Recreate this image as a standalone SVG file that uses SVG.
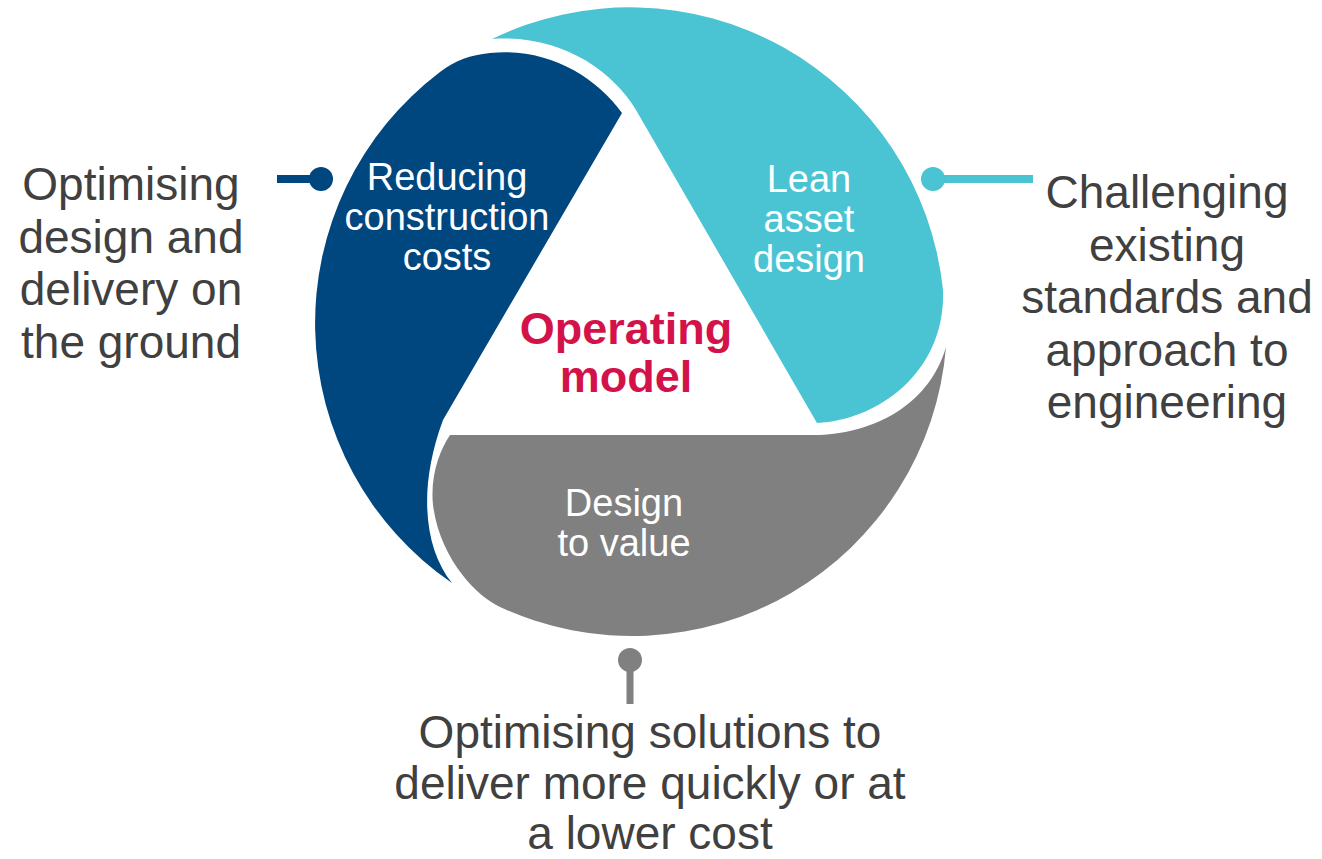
<svg xmlns="http://www.w3.org/2000/svg" width="1322" height="859" viewBox="0 0 1322 859">
<style>
.lbl{font-family:"Liberation Sans",Arial,sans-serif;font-size:46px;fill:#404040;text-anchor:middle}
.in{font-family:"Liberation Sans",Arial,sans-serif;font-size:38px;fill:#ffffff;text-anchor:middle}
.core{font-family:"Liberation Sans",Arial,sans-serif;font-size:45px;font-weight:bold;fill:#D4124A;text-anchor:middle}
</style>
<rect width="1322" height="859" fill="#ffffff"/>
<g id="blade-reducing">
<path fill="#00467F" d="M622,113 C595,75 545,47 490,53 C470,55 456,60 440,72 A315,315 0 0 0 452,583 C425,550 417,490 443,420 Z"/>
<text class="in" x="447" y="190">Reducing</text>
<text class="in" x="447" y="230">construction</text>
<text class="in" x="447" y="270">costs</text>
</g>
<g id="blade-lean">
<path fill="#4AC3D3" d="M492,39 A315,315 0 0 1 943,290 C946,370 880,420 817,423 L636,110 C612,70 560,34 492,39 Z"/>
<text class="in" x="809" y="192">Lean</text>
<text class="in" x="809" y="232">asset</text>
<text class="in" x="809" y="272">design</text>
</g>
<g id="blade-value">
<path fill="#808080" d="M450,435 L815,435 C865,435 928,410 946,347 A315,315 0 0 1 500,607 C478,597 440,560 433,505 C430,475 440,450 450,435 Z"/>
<text class="in" x="624" y="516">Design</text>
<text class="in" x="624" y="556">to value</text>
</g>
<g id="center">
<text class="core" x="626" y="344">Operating</text>
<text class="core" x="626" y="392">model</text>
</g>
<g id="connectors">
<line x1="277" y1="179" x2="320" y2="179" stroke="#00467F" stroke-width="8"/>
<circle cx="321" cy="179" r="12" fill="#00467F"/>
<line x1="933" y1="179" x2="1033" y2="179" stroke="#4AC3D3" stroke-width="8"/>
<circle cx="933" cy="179" r="12" fill="#4AC3D3"/>
<line x1="630" y1="660" x2="630" y2="704" stroke="#808080" stroke-width="7"/>
<circle cx="630" cy="660" r="12" fill="#808080"/>
</g>
<g id="label-left">
<text class="lbl" x="131" y="200">Optimising</text>
<text class="lbl" x="131" y="252.5">design and</text>
<text class="lbl" x="131" y="305">delivery on</text>
<text class="lbl" x="131" y="357.5">the ground</text>
</g>
<g id="label-right">
<text class="lbl" x="1167" y="208">Challenging</text>
<text class="lbl" x="1167" y="260.5">existing</text>
<text class="lbl" x="1167" y="313">standards and</text>
<text class="lbl" x="1167" y="365.5">approach to</text>
<text class="lbl" x="1167" y="418">engineering</text>
</g>
<g id="label-bottom">
<text class="lbl" x="650" y="748">Optimising solutions to</text>
<text class="lbl" x="650" y="799">deliver more quickly or at</text>
<text class="lbl" x="650" y="849">a lower cost</text>
</g>
</svg>
